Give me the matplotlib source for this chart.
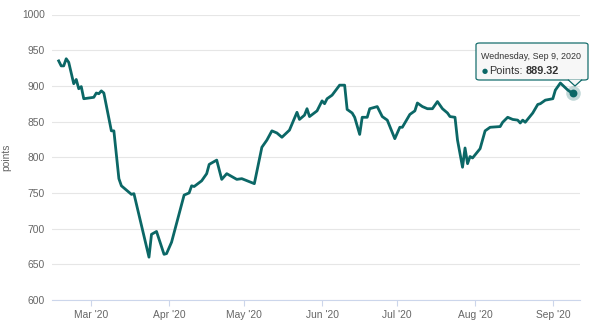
import matplotlib
matplotlib.use("Agg")
import matplotlib.pyplot as plt
import matplotlib.dates as mdates
from matplotlib.patches import FancyBboxPatch, Polygon
import numpy as np

# ---------------- data ----------------
dates = [
    "2020-02-17", "2020-02-18", "2020-02-19", "2020-02-20", "2020-02-21",
    "2020-02-23", "2020-02-24", "2020-02-25", "2020-02-26", "2020-02-27",
    "2020-03-02", "2020-03-03", "2020-03-04", "2020-03-05", "2020-03-06",
    "2020-03-09", "2020-03-10", "2020-03-12", "2020-03-13", "2020-03-16",
    "2020-03-17", "2020-03-18", "2020-03-24", "2020-03-25", "2020-03-27",
    "2020-03-30", "2020-03-31", "2020-04-02", "2020-04-07", "2020-04-09",
    "2020-04-10", "2020-04-11", "2020-04-14", "2020-04-16", "2020-04-17",
    "2020-04-20", "2020-04-22", "2020-04-24", "2020-04-28", "2020-04-30",
    "2020-05-05", "2020-05-08", "2020-05-10", "2020-05-12", "2020-05-14",
    "2020-05-16", "2020-05-19", "2020-05-22", "2020-05-23", "2020-05-25",
    "2020-05-26", "2020-05-27", "2020-05-30", "2020-06-01", "2020-06-02",
    "2020-06-03", "2020-06-05", "2020-06-08", "2020-06-10", "2020-06-11",
    "2020-06-13", "2020-06-14", "2020-06-16", "2020-06-17", "2020-06-19",
    "2020-06-20", "2020-06-23", "2020-06-25", "2020-06-27", "2020-06-30",
    "2020-07-02", "2020-07-03", "2020-07-06", "2020-07-08", "2020-07-09",
    "2020-07-11", "2020-07-13", "2020-07-15", "2020-07-17", "2020-07-19",
    "2020-07-21", "2020-07-22", "2020-07-24", "2020-07-25", "2020-07-27",
    "2020-07-28", "2020-07-29", "2020-07-30", "2020-07-31", "2020-08-03",
    "2020-08-05", "2020-08-07", "2020-08-11", "2020-08-12", "2020-08-14",
    "2020-08-16", "2020-08-18", "2020-08-19", "2020-08-20", "2020-08-21",
    "2020-08-24", "2020-08-26", "2020-08-27", "2020-08-29", "2020-09-01",
    "2020-09-02", "2020-09-04", "2020-09-07", "2020-09-09",
]
points = [
    935, 928, 928, 938, 933,
    903, 909, 896, 899, 882,
    884, 890, 889, 893, 890,
    837, 837, 770, 760, 751,
    748, 749, 660, 692, 696,
    664, 665, 681, 747, 750,
    760, 759, 767, 777, 790,
    796, 769, 777, 769, 770,
    763, 814, 824, 837, 834,
    828, 838, 863, 853, 859,
    868, 857, 865, 879, 875,
    882, 887, 901, 901, 867,
    862, 856, 832, 856, 856,
    868, 871, 857, 852, 826,
    842, 842, 860, 865, 876,
    871, 868, 868, 878, 868,
    862, 857, 856, 824, 786,
    813, 791, 801, 799, 812,
    837, 842, 843, 849, 856,
    853, 852, 848, 852, 849,
    862, 874, 875, 880, 882,
    894, 904, 894, 889.32,
]

y_ticks = [600, 650, 700, 750, 800, 850, 900, 950, 1000]
tooltip_date = "Wednesday, Sep 9, 2020"
series_name = "Points"

# ---------------- plot ----------------
plt.rcParams['font.family'] = ['Liberation Sans', 'DejaVu Sans']

W, H = 600, 324
fig = plt.figure(figsize=(6, 3.24), dpi=100)
ax = fig.add_axes([52 / W, 1 - 300 / H, 528 / W, (300 - 14.5) / H])

x = mdates.datestr2num(dates)
line_color = '#0b6766'
ax.plot(x, points, color=line_color, linewidth=2.0, solid_joinstyle='round', zorder=3)

# hover marker on the last point
ax.scatter([x[-1]], [points[-1]], s=110, color=line_color, alpha=0.25, linewidths=0, zorder=4)
ax.scatter([x[-1]], [points[-1]], s=32, color=line_color, linewidths=0, zorder=5)

ax.set_ylim(600, 1000)
ax.set_yticks(y_ticks)
ax.set_xlim(mdates.datestr2num("2020-02-14 08:00"), mdates.datestr2num("2020-09-11 20:00"))
ax.xaxis.set_major_locator(mdates.MonthLocator())
ax.xaxis.set_major_formatter(mdates.DateFormatter("%b '%y"))

ax.grid(axis='y', color='#e6e6e6', linewidth=0.8)
ax.set_axisbelow(True)
for side in ['top', 'right', 'left']:
    ax.spines[side].set_visible(False)
ax.spines['bottom'].set_color('#ccd6eb')
ax.spines['bottom'].set_linewidth(0.8)

ax.tick_params(axis='y', length=0, pad=5, labelsize=7.4, labelcolor='#666666')
ax.tick_params(axis='x', length=4, width=0.8, color='#ccd6eb', pad=3,
               labelsize=7.4, labelcolor='#666666')
ax.set_ylabel('points', fontsize=7.4, color='#666666')
ax.yaxis.set_label_coords(-0.077, 0.5)


# ---------------- tooltip ----------------
def fx(px):
    return px / W


def fy(py):
    return 1 - py / H


box = FancyBboxPatch((fx(476), fy(80)), fx(588) - fx(476), fy(43) - fy(80),
                     boxstyle="round,pad=0,rounding_size=0.006",
                     transform=fig.transFigure, facecolor='#f7f7f7',
                     edgecolor=line_color, linewidth=0.9, alpha=0.95, zorder=10)
fig.patches.append(box)
tip = Polygon([(fx(568), fy(79.6)), (fx(575), fy(86)), (fx(582), fy(79.6))],
              closed=False, transform=fig.transFigure, facecolor='#f7f7f7',
              edgecolor=line_color, linewidth=0.9, zorder=11)
fig.patches.append(tip)

fig.text(fx(481), fy(56.5), tooltip_date, fontsize=6.4, color='#333333',
         va='center', ha='left', zorder=12)
fig.text(fx(481.5), fy(71), u'\u25cf', fontsize=5, color=line_color,
         va='center', ha='left', zorder=12, family=['DejaVu Sans'])
fig.text(fx(489), fy(71), series_name + ':', fontsize=7.8, color='#333333',
         va='center', ha='left', zorder=12)
fig.text(fx(525.5), fy(71), f"{points[-1]:.2f}", fontsize=7.8, color='#333333',
         fontweight='bold', va='center', ha='left', zorder=12)

fig.savefig('out.png', dpi=100, facecolor='white')
